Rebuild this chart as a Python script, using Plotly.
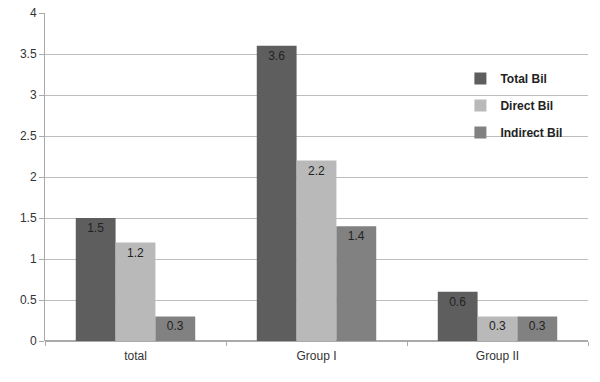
import plotly.graph_objects as go

categories = ["total", "Group I", "Group II"]
total_bil = [1.5, 3.6, 0.6]
direct_bil = [1.2, 2.2, 0.3]
indirect_bil = [0.3, 1.4, 0.3]
y_ticks = [0, 0.5, 1, 1.5, 2, 2.5, 3, 3.5, 4]
y_tick_labels = ["0", "0.5", "1", "1.5", "2", "2.5", "3", "3.5", "4"]

series = [
    ("Total Bil", total_bil, "#5e5e5e"),
    ("Direct Bil", direct_bil, "#b9b9b9"),
    ("Indirect Bil", indirect_bil, "#818181"),
]

fig = go.Figure()
for name, vals, col in series:
    fig.add_trace(go.Bar(
        name=name, x=categories, y=vals, legendgroup=name,
        marker=dict(color=col, line=dict(width=0)),
        text=[str(v) for v in vals], textposition="inside", insidetextanchor="end",
        textfont=dict(size=12, color="#222222", family="Liberation Sans"),
        textangle=0, constraintext="none",
    ))

fig.update_layout(
    width=600, height=382,
    margin=dict(l=45, r=12, t=13, b=41),
    paper_bgcolor="white", plot_bgcolor="white",
    barmode="group", bargap=0.34, bargroupgap=0,
    font=dict(family="Liberation Sans", size=12, color="#333333"),
    showlegend=True,
    legend=dict(x=0.765, y=0.718, xanchor="left", yanchor="middle",
                bgcolor="rgba(0,0,0,0)",
                font=dict(size=12, color="#222222", weight="bold"),
                itemwidth=30, tracegroupgap=8, traceorder="grouped"),
)
fig.update_xaxes(showline=False, ticks="outside", ticklen=4, tickcolor="#aaaaaa",
                 tickson="boundaries", ticklabelstandoff=6, automargin=False,
                 tickfont=dict(size=12, color="#333333"))
fig.update_yaxes(range=[0, 4], tickvals=y_ticks, ticktext=y_tick_labels,
                 showgrid=True, gridcolor="#bdbdbd", gridwidth=1,
                 showline=True, linecolor="#aaaaaa", ticks="outside", ticklen=5,
                 tickcolor="#aaaaaa", zeroline=True, zerolinecolor="#aaaaaa",
                 automargin=False, ticklabeloverflow="allow",
                 tickfont=dict(size=12, color="#333333"))

fig.write_html("out.html", config={"displayModeBar": False},
               post_script="document.body.style.margin='0px';")
